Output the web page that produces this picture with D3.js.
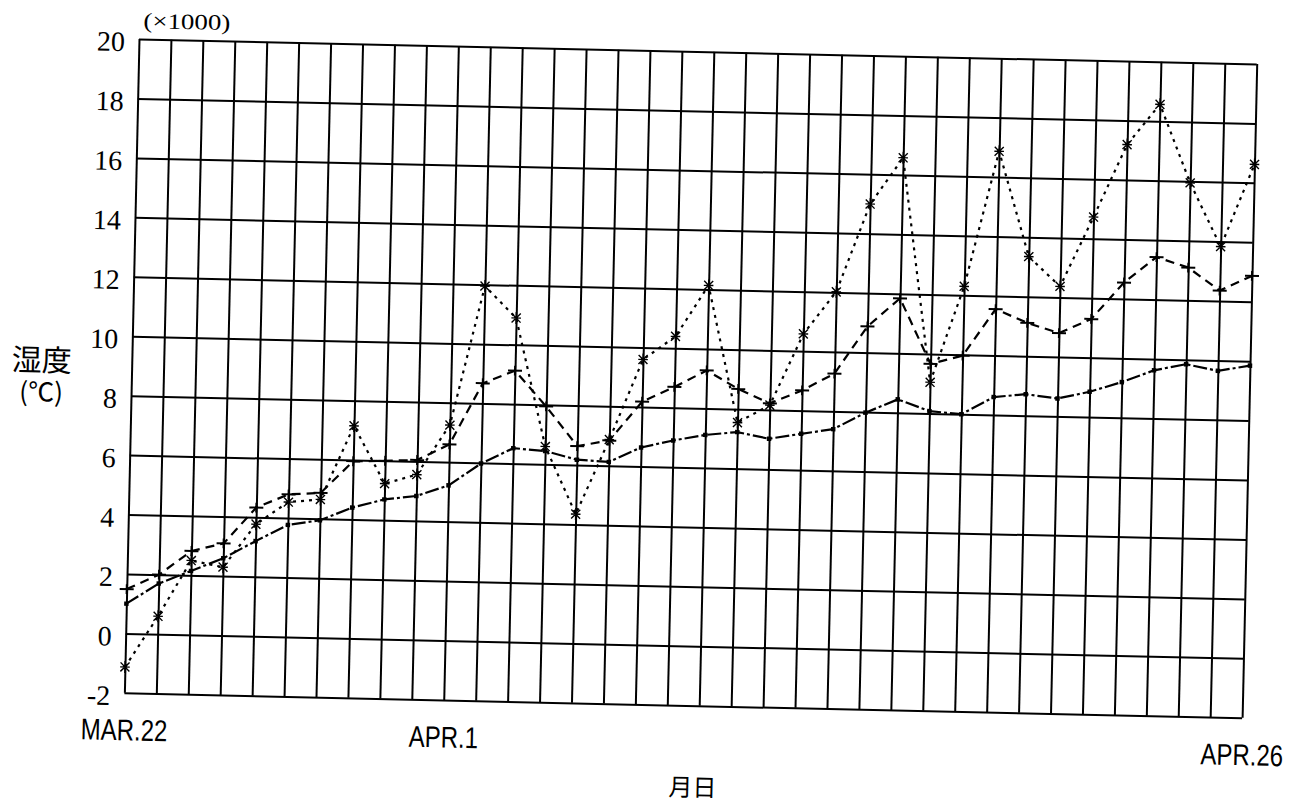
<!DOCTYPE html>
<html>
<head>
<meta charset="utf-8">
<script src="https://cdn.jsdelivr.net/npm/d3@7"></script>
<style>
  html, body { margin: 0; padding: 0; background: #fff; }
  svg { display: block; }
</style>
</head>
<body>
<svg id="chart" width="1308" height="805"></svg>
<script>
// ---- data -------------------------------------------------------------
const dates = [
  "3/22","3/23","3/24","3/25","3/26","3/27","3/28","3/29","3/30","3/31",
  "4/1","4/2","4/3","4/4","4/5","4/6","4/7","4/8","4/9","4/10",
  "4/11","4/12","4/13","4/14","4/15","4/16","4/17","4/18","4/19","4/20",
  "4/21","4/22","4/23","4/24","4/25","4/26"
];

// upper series (dotted line, asterisk markers)
const starValues = [
  -1.13, 0.6, 2.5, 2.3, 3.77, 4.54, 4.65, 7.15, 5.23, 5.56,
  7.25, 11.95, 10.9, 6.6, 4.35, 6.88, 9.6, 10.4, 12.14, 7.55,
  8.16, 10.58, 12.02, 15.0, 16.58, 9.05, 12.3, 16.87, 13.35, 12.37,
  14.73, 17.19, 18.57, 15.95, 13.83, 16.62
];

// middle series (dashed line, plus markers)
const plusValues = [
  1.49, 2.0, 2.82, 3.1, 4.33, 4.8, 4.87, 5.96, 6.0, 6.05,
  6.6, 8.68, 9.13, 7.95, 6.64, 6.85, 8.18, 8.7, 9.28, 8.68,
  8.22, 8.68, 9.27, 10.88, 11.85, 9.67, 9.97, 11.56, 11.12, 10.8,
  11.3, 12.55, 13.43, 13.1, 12.35, 12.87
];

// lower series (dash-dot line, square markers)
const squareValues = [
  1.0, 1.7, 2.15, 2.6, 3.2, 3.77, 3.95, 4.4, 4.7, 4.84,
  5.22, 5.98, 6.52, 6.45, 6.18, 6.13, 6.64, 6.9, 7.11, 7.23,
  7.03, 7.22, 7.4, 7.98, 8.45, 8.08, 8.0, 8.6, 8.72, 8.6,
  8.85, 9.2, 9.62, 9.85, 9.65, 9.85
];

const yTicks = [-2, 0, 2, 4, 6, 8, 10, 12, 14, 16, 18, 20];
const xTickDates = ["3/22", "4/1", "4/26"];
const xTickLabels = ["MAR.22", "APR.1", "APR.26"];

const yTitle = "湿度";
const yUnit = "(℃)";
const yScaleNote = "(×1000)";
const xTitle = "月日";

// ---- layout -----------------------------------------------------------
const originX = 139, originY = 39;   // top-left corner of the plot frame
const W = 1118, H = 654;
const tilt = 1.28;                    // the whole sheet sits slightly rotated

const svg = d3.select("#chart");
const sheet = svg.append("g")
  .attr("transform", `rotate(${tilt} ${originX} ${originY})`);
const plot = sheet.append("g")
  .attr("transform", `translate(${originX},${originY})`);

const x = d3.scalePoint().domain(dates).range([0, W]);
const y = d3.scaleLinear().domain([-2, 20]).range([H, 0]);

// ---- grid (drawn by the axes) ----------------------------------------
const yAxis = d3.axisLeft(y)
  .tickValues(yTicks)
  .tickSize(-W)
  .tickSizeOuter(0)
  .tickPadding(14)
  .tickFormat(d => String(d));

const gy = plot.append("g").attr("class", "y-axis").call(yAxis);
gy.select(".domain").remove();
gy.selectAll(".tick line").attr("stroke", "#000").attr("stroke-width", 2);
gy.selectAll(".tick text")
  .attr("dy", 12)
  .attr("fill", "#000")
  .style("font-family", "'Liberation Serif', 'DejaVu Serif', serif")
  .style("font-size", "28px");

const xGrid = d3.axisBottom(x)
  .tickSize(-H)
  .tickSizeOuter(0)
  .tickFormat("");
const gx = plot.append("g").attr("transform", `translate(0,${H})`).call(xGrid);
gx.select(".domain").remove();
gx.selectAll(".tick line").attr("stroke", "#000").attr("stroke-width", 2);

const labelOf = d3.scaleOrdinal().domain(xTickDates).range(xTickLabels);
const xLabels = d3.axisBottom(x)
  .tickValues(xTickDates)
  .tickSize(0)
  .tickFormat(d => labelOf(d));
const gxl = plot.append("g").attr("transform", `translate(0,${H})`).call(xLabels);
gxl.select(".domain").remove();
gxl.selectAll(".tick text")
  .attr("y", 47.5)
  .attr("dy", 0)
  .attr("fill", "#000")
  .attr("transform", "scale(0.8,1)")
  .style("font-family", "'Liberation Sans', 'DejaVu Sans', sans-serif")
  .style("font-size", "30px");

// ---- series -----------------------------------------------------------
const line = d3.line()
  .x((d, i) => x(dates[i]))
  .y(d => y(d));

const symbolStar = {
  draw(ctx, size) {
    const r = Math.sqrt(size) / 2, q = r * 0.75;
    ctx.moveTo(0, -r); ctx.lineTo(0, r);
    ctx.moveTo(-q, -q); ctx.lineTo(q, q);
    ctx.moveTo(-q, q); ctx.lineTo(q, -q);
    ctx.moveTo(-r * 0.8, 0); ctx.lineTo(r * 0.8, 0);
  }
};
const symbolPlus = {
  draw(ctx, size) {
    const r = Math.sqrt(size) / 2;
    ctx.moveTo(-r, 0); ctx.lineTo(r, 0);
    ctx.moveTo(0, -r * 0.7); ctx.lineTo(0, r * 0.7);
  }
};

const series = [
  { values: squareValues, dash: "14,3,3,3", width: 2.2,
    symbol: d3.symbolSquare, size: 20, fill: "#000", stroke: "none", sw: 0 },
  { values: plusValues, dash: "9,6", width: 2.2,
    symbol: symbolPlus, size: 196, fill: "none", stroke: "#000", sw: 2 },
  { values: starValues, dash: "3,5", width: 2.2,
    symbol: symbolStar, size: 144, fill: "none", stroke: "#000", sw: 1.4 }
];

series.forEach(s => {
  plot.append("path")
    .datum(s.values)
    .attr("d", line)
    .attr("fill", "none")
    .attr("stroke", "#000")
    .attr("stroke-width", s.width)
    .attr("stroke-dasharray", s.dash);

  plot.append("g")
    .selectAll("path")
    .data(s.values)
    .join("path")
    .attr("transform", (d, i) => `translate(${x(dates[i])},${y(d)})`)
    .attr("d", d3.symbol().type(s.symbol).size(s.size))
    .attr("fill", s.fill)
    .attr("stroke", s.stroke)
    .attr("stroke-width", s.sw);
});

// ---- titles -----------------------------------------------------------
plot.append("text")
  .attr("x", 4).attr("y", -11)
  .attr("textLength", 87)
  .attr("lengthAdjust", "spacingAndGlyphs")
  .style("font-family", "'Liberation Serif', 'DejaVu Serif', serif")
  .style("font-size", "22px")
  .text(yScaleNote);

plot.append("text")
  .attr("x", -90).attr("y", 321)
  .attr("text-anchor", "middle")
  .attr("dominant-baseline", "central")
  .style("font-family", "'Noto Sans CJK JP', 'Noto Sans CJK SC', sans-serif")
  .style("font-size", "30px")
  .text(yTitle);

plot.append("text")
  .attr("x", -90).attr("y", 353)
  .attr("text-anchor", "middle")
  .attr("dominant-baseline", "central")
  .style("font-family", "'Noto Sans CJK JP', 'Noto Sans CJK SC', sans-serif")
  .style("font-size", "26px")
  .text(yUnit);

plot.append("text")
  .attr("x", 570).attr("y", H + 80)
  .attr("text-anchor", "middle")
  .attr("dominant-baseline", "central")
  .style("font-family", "'Noto Sans CJK JP', 'Noto Sans CJK SC', sans-serif")
  .style("font-size", "24px")
  .text(xTitle);
</script>
</body>
</html>
